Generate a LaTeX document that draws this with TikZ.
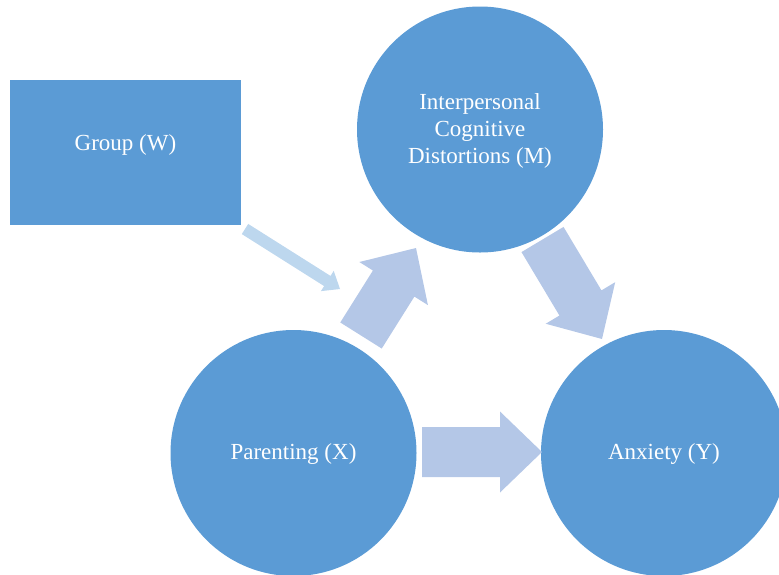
\documentclass[tikz,border=0pt]{standalone}
\usepackage{fontspec}
\setmainfont{Liberation Serif}
\usetikzlibrary{calc}
\definecolor{nodeblue}{HTML}{5B9BD5}
\definecolor{arrowblue}{HTML}{B4C7E7}
\definecolor{thinblue}{HTML}{BDD7EE}
\tikzset{
  circnode/.style={circle, fill=nodeblue, draw=none, minimum size=246pt, inner sep=0pt,
    text=white, font=\fontsize{23}{27}\selectfont, align=center},
  boxnode/.style={rectangle, fill=nodeblue, draw=none, minimum width=231pt, minimum height=145pt,
    inner sep=0pt},
  labeltext/.style={text=white, font=\fontsize{23}{27}\selectfont, align=center},
  blockarrow/.style={fill=arrowblue, draw=none},
  thinarrow/.style={fill=thinblue, draw=none}
}
% #1 tail, #2 tip, #3 half shaft width, #4 half head width, #5 head length, #6 style
\newcommand{\myblockarrow}[6]{%
  \coordinate (hb) at ($(#2)!#5!(#1)$);
  \fill[#6] ($(#1)!#3!90:(#2)$) -- ($(hb)!#3!-90:(#1)$) -- ($(hb)!#4!-90:(#1)$) -- (#2)
    -- ($(hb)!#4!90:(#1)$) -- ($(hb)!#3!90:(#1)$) -- ($(#1)!#3!-90:(#2)$) -- cycle;
}
\begin{document}
\begin{tikzpicture}[x=1pt,y=-1pt]
\useasboundingbox (0,0) rectangle (779,574);
% nodes
\node[boxnode] (W) at (125.5,152.5) {};
\node[labeltext, yshift=8pt] (Wt) at (W.center) {Group (W)};
\node[circnode] (M) at (480,129.5) {};
\node[labeltext, yshift=-1pt] (Mt) at (M.center) {Interpersonal\\Cognitive\\Distortions (M)};
\node[circnode] (X) at (293.5,453) {};
\node[labeltext, yshift=-1pt] (Xt) at (X.center) {Parenting (X)};
\node[circnode] (Y) at (664,453) {};
\node[labeltext, yshift=-1pt] (Yt) at (Y.center) {Anxiety (Y)};
% connector end points
\coordinate (wt) at (245,229);
\coordinate (wh) at (340,289);
\coordinate (xmt) at (361,335.5);
\coordinate (xmh) at (416,248);
\coordinate (myt) at (542.5,239.5);
\coordinate (myh) at (602,339);
\coordinate (xyt) at (422,452);
\coordinate (xyh) at (542,452);
% arrows
\myblockarrow{wt}{wh}{6pt}{12pt}{15pt}{thinarrow}
\myblockarrow{xmt}{xmh}{24.5pt}{40.5pt}{42pt}{blockarrow}
\myblockarrow{myt}{myh}{24.5pt}{40.5pt}{42pt}{blockarrow}
\myblockarrow{xyt}{xyh}{25pt}{40.5pt}{42pt}{blockarrow}
\end{tikzpicture}
\end{document}
